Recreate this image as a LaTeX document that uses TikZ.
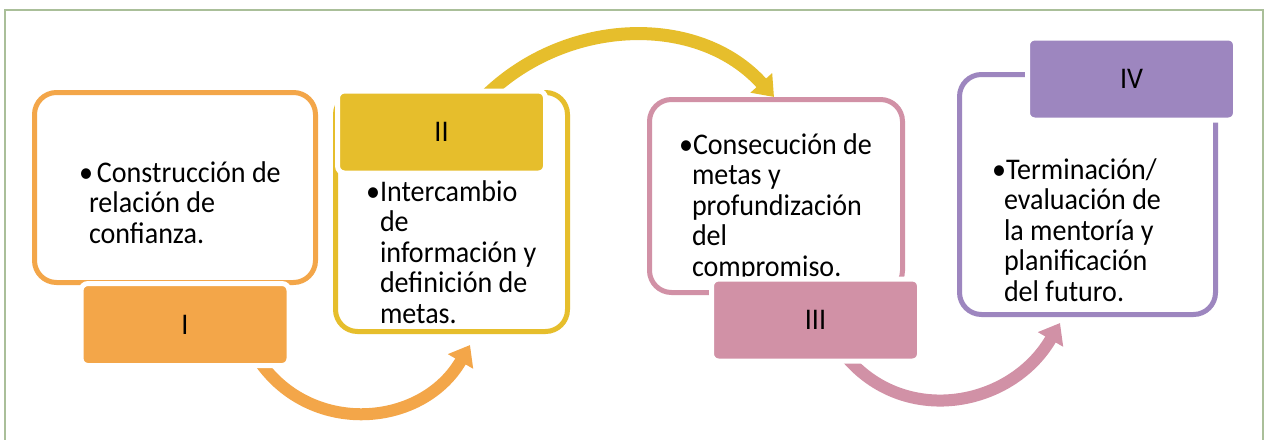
\documentclass[tikz,border=0pt]{standalone}
\usepackage{fontspec}
\setmainfont{Carlito}[FakeStretch=0.935]
\usetikzlibrary{arrows.meta}
\definecolor{cOr}{HTML}{F3A649}
\definecolor{cYe}{HTML}{E6BE2C}
\definecolor{cPi}{HTML}{D191A6}
\definecolor{cPu}{HTML}{9D86BF}
\definecolor{cFrame}{HTML}{AABF99}
\newcommand\txtlines[1]{\vtop{\baselineskip=30.5pt\lineskiplimit=-30pt #1}}
\begin{document}
\begin{tikzpicture}[x=1pt,y=1pt,
  outl/.style={draw, line width=5pt, fill=white, rounded corners=22pt, inner sep=0pt, outer sep=0pt},
  lab/.style={draw=white, line width=5pt, rounded corners=7pt, minimum width=208pt, minimum height=82pt, inner sep=0pt, outer sep=0pt, font=\fontsize{30}{30.5}\selectfont},
  txt/.style={anchor=base west, inner sep=0pt, outer sep=0pt, font=\fontsize{30}{30.5}\selectfont},
  arr/.style={line width=12pt, -{Triangle[length=19pt,width=28pt]}}
]
\clip (0,0) rectangle (1268,-439);
\fill[white] (0,0) rectangle (1268,-439);
\node[draw=cFrame, line width=2pt, minimum width=1258pt, minimum height=460pt, anchor=north west, inner sep=0pt, outer sep=0pt] (frame) at (5,-10) {};

% outline boxes
\node[outl, draw=cOr, minimum width=281pt, minimum height=190pt] (b1) at (175,-187.5) {};
\node[outl, draw=cYe, minimum width=232pt, minimum height=239pt] (b2) at (451.5,-212) {};
\node[outl, draw=cPi, minimum width=253pt, minimum height=193pt] (b3) at (776,-196) {};
\node[outl, draw=cPu, minimum width=256pt, minimum height=240pt] (b4) at (1087.5,-194.5) {};

% texts
\node[txt] (t1) at (89,-182) {\txtlines{\hbox{\hspace*{8pt}\llap{•\hspace{4pt}}Construcción de}\hbox{relación de}\hbox{confianza.}}};
\node[txt] (t2) at (380,-201) {\txtlines{\hbox{\llap{•}Intercambio}\hbox{de}\hbox{información y}\hbox{definición de}\hbox{metas.}}};
\node[txt] (t3) at (692,-154) {\txtlines{\hbox{\hspace*{1pt}\llap{•}Consecución de}\hbox{metas y}\hbox{profundización}\hbox{del}\hbox{compromiso.}}};
\node[txt] (t4) at (1004,-179) {\txtlines{\hbox{\hspace*{2pt}\llap{•}Terminación/}\hbox{evaluación de}\hbox{la mentoría y}\hbox{planificación}\hbox{del futuro.}}};

% arrows
\coordinate (a1s) at (253.6,-352);
\coordinate (a1e) at (470,-345);
\coordinate (a2s) at (486.7,-95);
\coordinate (a2e) at (774,-97);
\coordinate (a3s) at (838.5,-346.8);
\coordinate (a3e) at (1060,-323);
\draw[arr, cOr] (a1s) to[out=-60, in=-120, looseness=1.16] (a1e);
\draw[arr, cYe, line width=13pt] (a2s) to[out=44, in=132, looseness=1.0] (a2e);
\draw[arr, cPi] (a3s) to[out=-55, in=-120, looseness=1.15] (a3e);

% labels
\node[lab, fill=cOr] (l1) at (185,-324.5) {I};
\node[lab, fill=cYe] (l2) at (441.5,-132) {II};
\node[lab, fill=cPi] (l3) at (815.5,-320) {III};
\node[lab, fill=cPu] (l4) at (1131.5,-79) {IV};
\end{tikzpicture}
\end{document}
